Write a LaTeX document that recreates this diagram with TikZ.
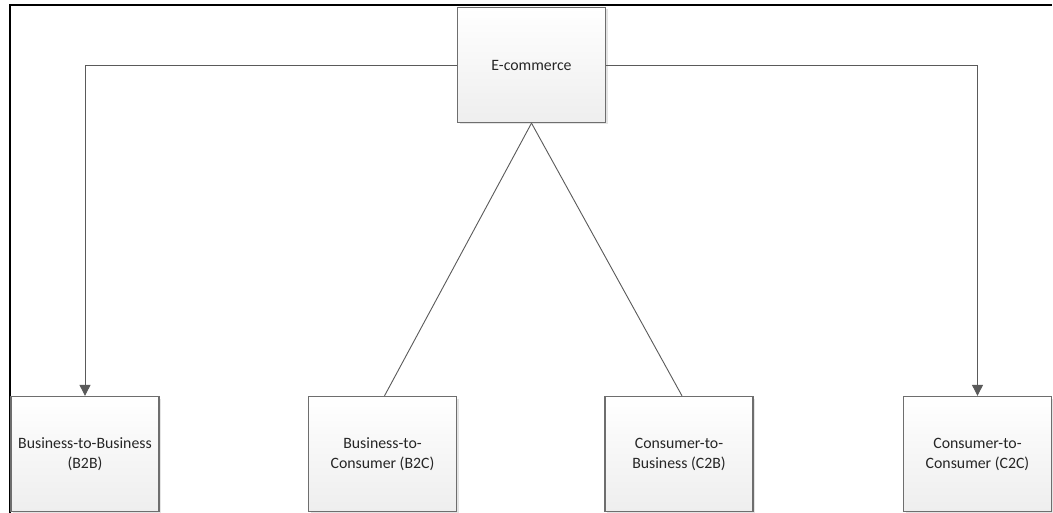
\documentclass[tikz,border=0pt]{standalone}
\usepackage{fontspec}
\setmainfont{Carlito}
\usetikzlibrary{arrows.meta,shadows}
\definecolor{boxline}{HTML}{6E6E6E}
\definecolor{conn}{HTML}{5A5A5A}
\definecolor{boxbot}{HTML}{EEEEEE}
\begin{document}
\begin{tikzpicture}[x=1pt,y=-1pt,
  box/.style={draw=boxline,line width=1.3pt,minimum width=148pt,minimum height=115pt,
    top color=white,bottom color=boxbot,align=center,inner sep=1pt,
    font=\fontsize{15.8}{20}\selectfont,text=black!85,
    drop shadow={shadow xshift=2pt,shadow yshift=-2pt,fill=black!30,opacity=0.35}},
  conn/.style={draw=conn,line width=0.9pt},
  arr/.style={conn,-{Triangle[length=11pt,width=11pt]}}]
\useasboundingbox (0,0) rectangle (1053,513);
\fill[white] (0,0) rectangle (1053,513);
\draw[line width=2pt,black] (10,513) -- (10,5.5) -- (1052,5.5);
\node[box] (ecom) at (531.5,65) {E-commerce};
\node[box] (b2b) at (85,454) {Business-to-Business\\(B2B)};
\node[box] (b2c) at (382.5,454) {Business-to-\\Consumer (B2C)};
\node[box] (c2b) at (679,454) {Consumer-to-\\Business (C2B)};
\node[box] (c2c) at (977.5,454) {Consumer-to-\\Consumer (C2C)};
\draw[arr] (ecom.west) -| (b2b.north);
\draw[arr] (ecom.east) -| (c2c.north);
\draw[conn] (ecom.south) -- ([xshift=2pt]b2c.north);
\draw[conn] (ecom.south) -- ([xshift=3pt]c2b.north);
\end{tikzpicture}
\end{document}
